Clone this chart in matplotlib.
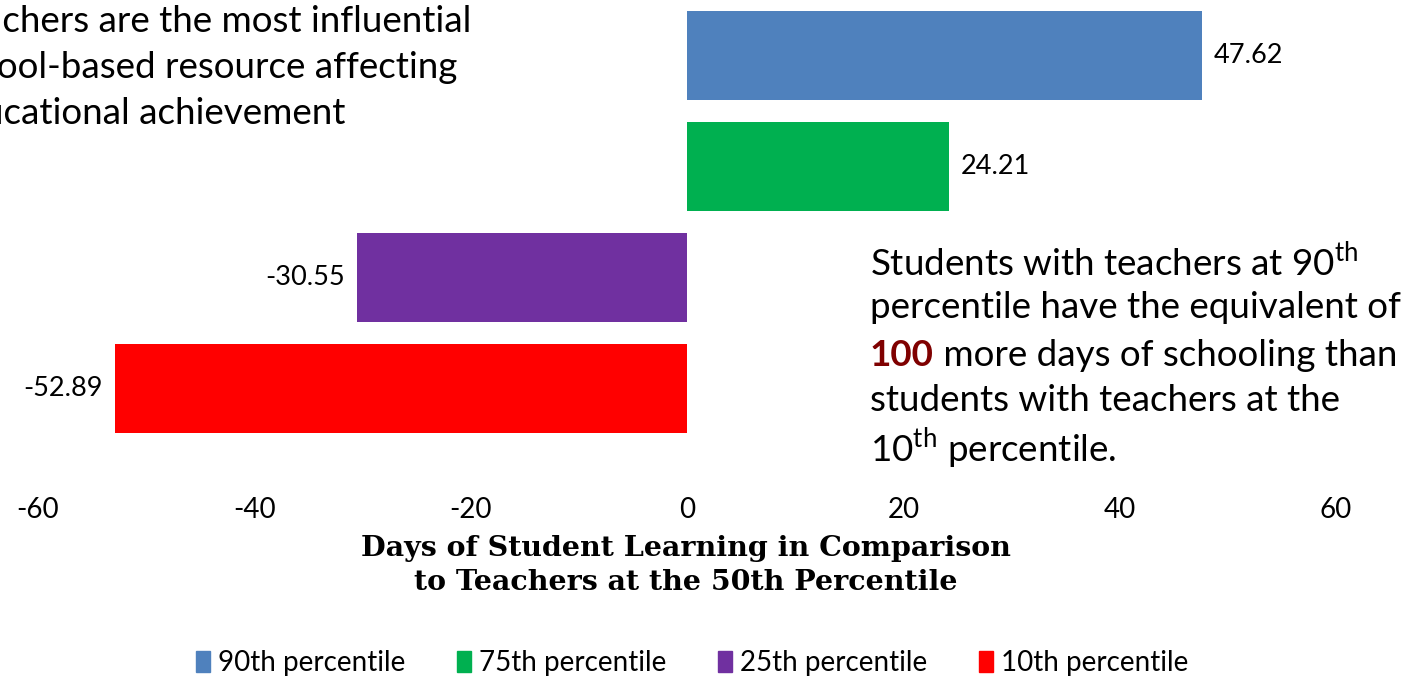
import matplotlib
matplotlib.use("Agg")
import matplotlib.pyplot as plt
from matplotlib.patches import Patch

plt.rcParams['font.family'] = ['Lato', 'DejaVu Sans']
plt.rcParams['mathtext.fontset'] = 'custom'
plt.rcParams['mathtext.rm'] = 'Lato'

labels = ['90th percentile', '75th percentile', '25th percentile', '10th percentile']
values = [47.62, 24.21, -30.55, -52.89]
colors = ['#4F81BD', '#00B050', '#7030A0', '#FF0000']
ticks = [-60, -40, -20, 0, 20, 40, 60]

W, H = 1410, 678
fig = plt.figure(figsize=(W / 100, H / 100), dpi=100)
ax = fig.add_axes([38 / W, 1 - 444 / H, (1336 - 38) / W, 444 / H])

pos = range(len(values))
bars = ax.barh(pos, values, height=0.8, color=colors)
ax.set_ylim(3.5, -0.5)
ax.set_xlim(-60, 60)
ax.set_xticks(ticks)
ax.set_xticklabels([str(t) for t in ticks])
ax.set_yticks([])
ax.tick_params(axis='x', length=0, pad=38, labelsize=20)
for s in ax.spines.values():
    s.set_visible(False)

for b, v in zip(bars, values):
    off = 12 if v > 0 else -12
    ax.annotate(f"{v:.2f}", (v, b.get_y() + b.get_height() / 2),
                xytext=(off, 0), textcoords='offset pixels',
                ha='left' if v > 0 else 'right', va='center', fontsize=19.5)

# axis title
fig.text(686 / W, 1 - 548 / H, "Days of Student Learning in Comparison",
         family='DejaVu Serif', weight='bold', fontsize=20.5, ha='center', va='center')
fig.text(686 / W, 1 - 582 / H, "to Teachers at the 50th Percentile",
         family='DejaVu Serif', weight='bold', fontsize=20.5, ha='center', va='center')

# top-left text (cut off at the left edge in the original)
top_lines = ["Teachers are the most influential",
             "school-based resource affecting",
             "educational achievement"]
for i, line in enumerate(top_lines):
    fig.text(-57 / W, 1 - (22 + 46 * i) / H, line, fontsize=26.5, ha='left', va='center')

# right annotation
fs = 26.5
x0 = 870 / W
ys = [262, 308, 355, 401, 448]
fig.text(x0, 1 - ys[0] / H, r"Students with teachers at 90$^{\mathrm{th}}$", fontsize=fs, va='center')
fig.text(x0, 1 - ys[1] / H, "percentile have the equivalent of", fontsize=fs, va='center')
t100 = fig.text(x0, 1 - ys[2] / H, "100", fontsize=fs, weight='bold', color='#7F0000', va='center')
ax.annotate(" more days of schooling than", xy=(1, 0), xycoords=t100,
            fontsize=fs, va='bottom', ha='left')
fig.text(x0, 1 - ys[3] / H, "students with teachers at the", fontsize=fs, va='center')
fig.text(x0, 1 - ys[4] / H, r"10$^{\mathrm{th}}$ percentile.", fontsize=fs, va='center')

handles = [Patch(color=c, label=l) for c, l in zip(colors, labels)]
fig.legend(handles=handles, loc='center', bbox_to_anchor=(692 / W, 1 - 663 / H),
           ncol=4, frameon=False, fontsize=20, handlelength=0.5, handleheight=0.8,
           handletextpad=0.3, columnspacing=1.85)

fig.savefig("out.png", dpi=100)
